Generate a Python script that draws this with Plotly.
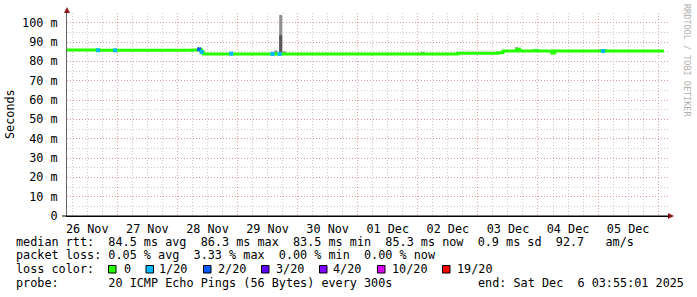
import plotly.graph_objects as go

# ---------------- data ----------------
start_time = "2025-11-26 03:55:01"
end_time = "2025-12-06 03:55:01"

med_time = ["2025-11-26 03:55", "2025-11-26 17:00", "2025-11-27 14:00", "2025-11-28 06:00",
            "2025-11-28 08:30", "2025-11-28 09:30", "2025-11-28 10:20", "2025-11-30 12:00",
            "2025-12-02 16:00", "2025-12-03 08:00", "2025-12-03 10:00", "2025-12-03 15:30",
            "2025-12-03 16:40", "2025-12-03 22:30", "2025-12-03 23:50", "2025-12-04 05:30",
            "2025-12-04 06:40", "2025-12-06 02:20"]
med_value = [85.85, 85.7, 85.7, 85.8,
             86.3, 85.0, 83.85, 83.85,
             84.15, 84.5, 85.35, 86.3,
             85.35, 85.6, 85.35, 84.3,
             85.35, 85.35]

loss_time = ["2025-11-26 16:20", "2025-11-26 23:10", "2025-11-28 08:40", "2025-11-28 09:40",
             "2025-11-28 21:30", "2025-11-29 14:00", "2025-11-29 16:50", "2025-12-05 02:00"]
loss_value = [85.7, 85.7, 86.2, 84.9, 84.0, 83.85, 83.85, 85.35]
loss_level = ["1/20", "1/20", "2/20", "1/20", "1/20", "1/20", "1/20", "1/20"]

smoke_time = ["2025-11-29 15:20", "2025-11-29 17:15", "2025-11-29 18:40", "2025-12-02 02:00",
              "2025-12-03 15:30", "2025-12-05 01:00", "2025-12-05 03:00"]
smoke_lo = [84.0, 84.0, 84.0, 84.0, 85.5, 85.3, 85.3]
smoke_hi = [85.6, 104.0, 85.2, 84.9, 87.3, 86.2, 86.3]
smoke_dark_time = ["2025-11-29 17:15"]
smoke_dark_lo = [84.0]
smoke_dark_hi = [93.5]

y_ticks = [0, 10, 20, 30, 40, 50, 60, 70, 80, 90, 100]
y_ticktext = ["0", "10 m", "20 m", "30 m", "40 m", "50 m", "60 m", "70 m", "80 m", "90 m", "100 m"]

loss_names = ["0", "1/20", "2/20", "3/20", "4/20", "10/20", "19/20"]
loss_colors = ["#26ff00", "#00b8ff", "#0059ff", "#5e00ff", "#7e00ff", "#dd00ff", "#ff0000"]

line1 = "median rtt:  84.5 ms avg  86.3 ms max  83.5 ms min  85.3 ms now  0.9 ms sd  92.7   am/s"
line2 = "packet loss: 0.05 % avg  3.33 % max  0.00 % min  0.00 % now"
line3 = "loss color:"
line4a = "probe:       20 ICMP Echo Pings (56 Bytes) every 300s"
line4b = "end: Sat Dec  6 03:55:01 2025"
side_text = "RRDTOOL / TOBI OETIKER"

# ---------------- layout geometry ----------------
W, H = 697, 297
L, R, T, B = 67, 668, 13, 216
PW, PH = R - L, B - T
FONT = "DejaVu Sans Mono"
FS = 11.8


def px(x):
    return (x - L) / PW


def py(y):
    return (B - y) / PH


fig = go.Figure()

# smoke (light)
sx, sy = [], []
for t, lo, hi in zip(smoke_time, smoke_lo, smoke_hi):
    sx += [t, t, None]
    sy += [lo, hi, None]
fig.add_trace(go.Scatter(x=sx, y=sy, mode="lines", line=dict(color="#8f8f8f", width=3),
                         hoverinfo="skip", showlegend=False))
dx, dy = [], []
for t, lo, hi in zip(smoke_dark_time, smoke_dark_lo, smoke_dark_hi):
    dx += [t, t, None]
    dy += [lo, hi, None]
fig.add_trace(go.Scatter(x=dx, y=dy, mode="lines", line=dict(color="#585858", width=3),
                         hoverinfo="skip", showlegend=False))

# median line (loss 0)
fig.add_trace(go.Scatter(x=med_time, y=med_value, mode="lines",
                         line=dict(color=loss_colors[0], width=3, shape="hv"),
                         showlegend=False))

# loss points
cmap = dict(zip(loss_names, loss_colors))
fig.add_trace(go.Scatter(x=loss_time, y=loss_value, mode="markers",
                         marker=dict(symbol="square", size=4,
                                     color=[cmap[l] for l in loss_level],
                                     line=dict(width=0)),
                         showlegend=False))

grid_red = "rgba(225,140,140,0.8)"
grid_gray = "rgba(190,190,190,0.8)"
DASH = "1px,2px"

fig.update_xaxes(
    type="date", range=[start_time, end_time],
    dtick=86400000, tick0="2025-11-26 00:00", ticklabelmode="period", tickformat="%d %b",
    showgrid=True, gridcolor=grid_red, griddash=DASH, gridwidth=1,
    minor=dict(dtick=6 * 3600000, tick0="2025-11-26 00:00", showgrid=True,
               gridcolor=grid_gray, griddash=DASH, gridwidth=1),
    showline=True, linecolor="black", linewidth=1,
    ticks="", ticklabelstandoff=2, tickfont=dict(family=FONT, size=FS, color="black"),
    zeroline=False, fixedrange=True,
)
fig.update_yaxes(
    range=[0, 105], tickvals=y_ticks, ticktext=y_ticktext,
    showgrid=True, gridcolor=grid_red, griddash=DASH, gridwidth=1,
    minor=dict(dtick=5, tick0=0, showgrid=True, gridcolor=grid_gray, griddash=DASH, gridwidth=1),
    showline=True, linecolor="#666666", linewidth=1,
    ticks="", ticklabelstandoff=6, tickfont=dict(family=FONT, size=FS, color="black"),
    zeroline=False, fixedrange=True,
)

annotations = []
# y title
annotations.append(dict(x=px(10), y=py(114), xref="paper", yref="paper", text="Seconds",
                        textangle=-90, showarrow=False, xanchor="center", yanchor="middle",
                        font=dict(family=FONT, size=FS, color="black")))
# side text
annotations.append(dict(x=px(687), y=py(60), xref="paper", yref="paper", text=side_text,
                        textangle=90, showarrow=False, xanchor="center", yanchor="middle",
                        font=dict(family=FONT, size=8.5, color="#b0b0b0")))


def txt(x, y, s):
    annotations.append(dict(x=px(x), y=py(y), xref="paper", yref="paper", text=s.replace(" ", "&nbsp;"),
                            showarrow=False, xanchor="left", yanchor="middle", borderpad=0,
                            font=dict(family=FONT, size=FS, color="black")))


txt(15, 241.5, line1)
txt(15, 255, line2)
txt(15, 269, line3)
txt(15, 282.7, line4a)
txt(476.5, 282.7, line4b)

sq_x = [108.5, 146, 203.5, 261.5, 319.5, 377.5, 442.5]
lab_x = [122.5, 158, 216.5, 274.5, 332, 390.5, 455.5]
shapes = []
for sx0, lx, name, col in zip(sq_x, lab_x, loss_names, loss_colors):
    shapes.append(dict(type="rect", xref="paper", yref="paper",
                       x0=px(sx0), x1=px(sx0 + 7.5), y0=py(273), y1=py(265.5),
                       fillcolor=col, line=dict(color="black", width=1)))
    txt(lx, 269, name)

# axis arrows
shapes.append(dict(type="path", xref="paper", yref="paper",
                   path=f"M {px(64)} {py(13)} L {px(70)} {py(13)} L {px(67)} {py(7)} Z",
                   fillcolor="#8b1a1a", line=dict(color="#8b1a1a", width=0)))
shapes.append(dict(type="path", xref="paper", yref="paper",
                   path=f"M {px(668)} {py(213)} L {px(668)} {py(219)} L {px(674)} {py(216)} Z",
                   fillcolor="#8b1a1a", line=dict(color="#8b1a1a", width=0)))
shapes.append(dict(type="line", xref="paper", yref="paper", x0=px(62), x1=px(669), y0=0, y1=0,
                   line=dict(color="black", width=1)))

fig.update_layout(
    width=W, height=H,
    margin=dict(l=L, r=W - R, t=T, b=H - B, pad=0),
    paper_bgcolor="white", plot_bgcolor="white",
    showlegend=False,
    annotations=annotations, shapes=shapes,
    font=dict(family=FONT, size=FS, color="black"),
)

fig.write_html("out.html")
